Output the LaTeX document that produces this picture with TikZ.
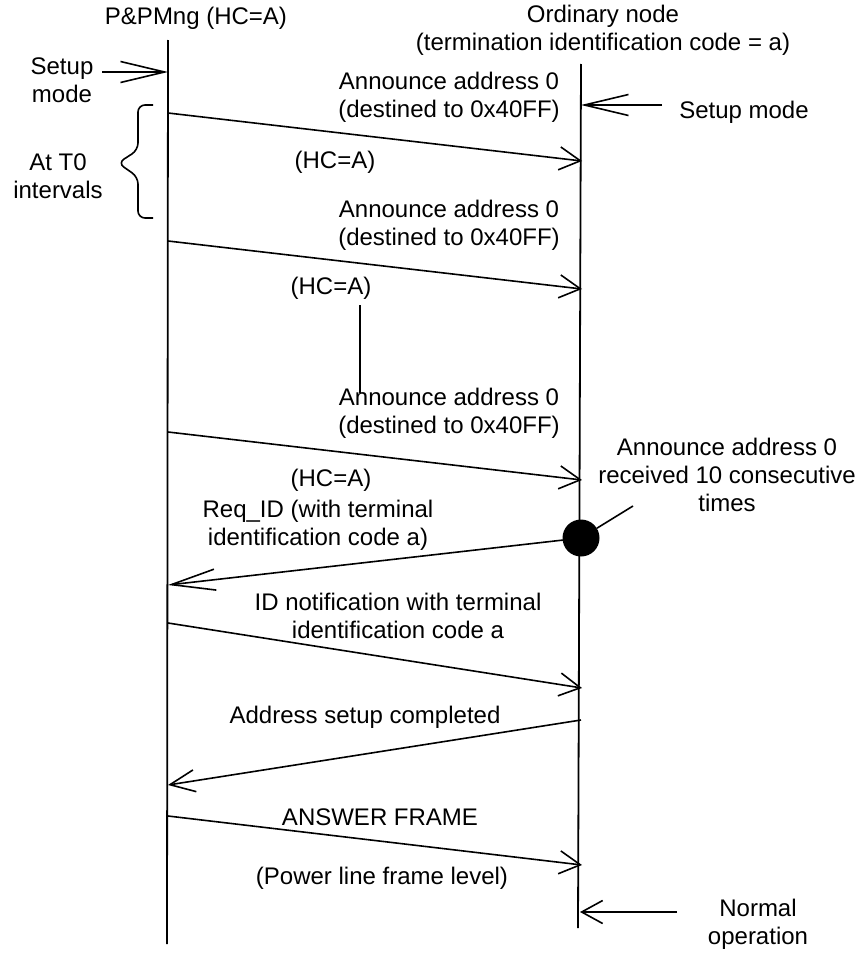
\documentclass[tikz,border=0pt]{standalone}
\usepackage{fontspec}
\setmainfont{Liberation Sans}
\usetikzlibrary{arrows.meta}
\begin{document}
\begin{tikzpicture}[x=1pt,y=-1pt,
  every node/.style={font=\fontsize{24}{28}\selectfont, inner sep=0pt, align=center},
  life/.style={line width=1.8pt},
  msg/.style={line width=1.6pt, -{Straight Barb[length=21pt,width=23pt]}},
  longmsg/.style={line width=1.6pt, -{Straight Barb[length=44pt,width=21pt]}},
  midmsg/.style={line width=1.6pt, -{Straight Barb[length=25pt,width=22pt]}},
  plain/.style={line width=1.6pt}]
\useasboundingbox (0,0) rectangle (859,953);

% lifelines
\coordinate (Ltop) at (168,40);
\coordinate (Lbot) at (167,944);
\coordinate (Rtop) at (581,64);
\coordinate (Rbot) at (578,928);
\draw[life] (Ltop) -- (Lbot);
\draw[life] (Rtop) -- (Rbot);

% headings
\node (hmng) at (196,18) {P\&PMng (HC=A)};
\node (hnode) at (603,30) {Ordinary node\\(termination identification code = a)};

% mode markers
\node (smL) at (62,80) {Setup\\mode};
\coordinate (smLa) at (102,72);
\coordinate (smLb) at (168,72);
\draw[longmsg] (smLa) -- (smLb);

\node (smR) at (744,112) {Setup mode};
\coordinate (smRa) at (662,105);
\coordinate (smRb) at (581,105);
\draw[longmsg] (smRa) -- (smRb);

\node (nop) at (758,924) {Normal\\operation};
\coordinate (nopa) at (677,912);
\coordinate (nopb) at (580,912);
\draw[msg] (nopa) -- (nopb);

% interval brace
\draw[plain, rounded corners=7pt] (153,105) -- (138,105) -- (138,150) -- (118,163)
  -- (138,177) -- (138,218) -- (153,218);
\node (t0) at (58,176) {At T0\\intervals};

% announce 1
\coordinate (a1s) at (168,113);
\coordinate (a1e) at (582,161);
\draw[msg] (a1s) -- (a1e);
\node (a1t) at (449,97) {Announce address 0\\(destined to 0x40FF)};
\node (a1h) at (335,162) {(HC=A)};

% announce 2
\coordinate (a2s) at (168,241);
\coordinate (a2e) at (582,289);
\draw[msg] (a2s) -- (a2e);
\node (a2t) at (449,225) {Announce address 0\\(destined to 0x40FF)};
\node (a2h) at (331,288) {(HC=A)};

% repetition mark
\coordinate (repa) at (360,305);
\coordinate (repb) at (360,393);
\draw[plain] (repa) -- (repb);

% announce 3
\coordinate (a3s) at (168,432);
\coordinate (a3e) at (582,480);
\draw[msg] (a3s) -- (a3e);
\node (a3t) at (449,413) {Announce address 0\\(destined to 0x40FF)};
\node (a3h) at (331,480) {(HC=A)};

% reception event
\node (recv) at (727,475) {Announce address 0\\received 10 consecutive\\times};
\coordinate (dotc) at (581,538);
\coordinate (reqe) at (168,585);
\draw[longmsg] (dotc) -- (reqe);
\node[circle, fill=black, minimum size=37pt] (dot) at (dotc) {};
\coordinate (lead) at (633,506);
\draw[plain] (dot) -- (lead);
\node (reqt) at (318,525) {Req\_ID (with terminal\\identification code a)};

% ID notification
\coordinate (ids) at (168,623);
\coordinate (ide) at (582,688);
\draw[msg] (ids) -- (ide);
\node (idt) at (398,616) {ID notification with terminal\\identification code a};

% address setup completed
\coordinate (ads) at (581,720);
\coordinate (ade) at (168,785);
\draw[midmsg] (ads) -- (ade);
\node (adt) at (365,717) {Address setup completed};

% answer frame
\coordinate (ans) at (168,816);
\coordinate (ane) at (582,865);
\draw[msg] (ans) -- (ane);
\node (ant) at (380,817) {ANSWER FRAME};
\node (anp) at (382,878) {(Power line frame level)};
\end{tikzpicture}
\end{document}
